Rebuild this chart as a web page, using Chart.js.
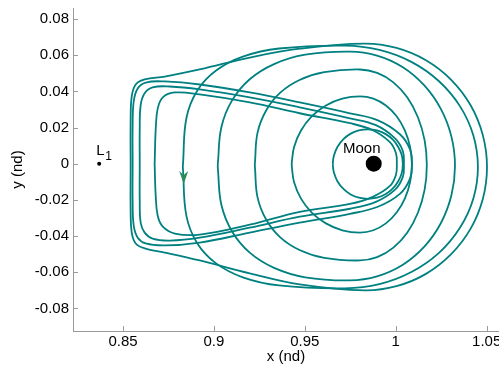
<!DOCTYPE html>
<html>
<head>
<meta charset="utf-8">
<script src="https://cdn.jsdelivr.net/npm/chart.js@4.4.1/dist/chart.umd.min.js"></script>
<style>
  html, body { margin: 0; padding: 0; background: #fff; overflow: hidden; }
  #wrap { width: 520px; height: 374px; }
</style>
</head>
<body>
<div id="wrap"><canvas id="chart"></canvas></div>
<script>
// axis ticks
const xTicks = [0.85, 0.9, 0.95, 1, 1.05];
const xTickLabels = ['0.85', '0.9', '0.95', '1', '1.05'];
const yTicks = [-0.08, -0.06, -0.04, -0.02, 0, 0.02, 0.04, 0.06, 0.08];
const yTickLabels = ['-0.08', '-0.06', '-0.04', '-0.02', '0', '0.02', '0.04', '0.06', '0.08'];

// bodies
const moonPos = [0.9879, 0];
const l1Pos = [0.8369, 0];
const arrowTip = [0.8834, -0.0112];

// trajectory laps (x, y in nd)
const lapBig = [[0.8542,-0.0018],[0.8542,-0.0260],[0.8548,-0.0381],[0.8570,-0.0441],[0.8619,-0.0468],[0.8730,-0.0491],[0.8922,-0.0535],[0.9197,-0.0606],[0.9472,-0.0667],[0.9830,-0.0700],[1.0004,-0.0677],[1.0166,-0.0609],[1.0305,-0.0500],[1.0412,-0.0359],[1.0479,-0.0195],[1.0502,-0.0018],[1.0479,0.0158],[1.0412,0.0323],[1.0305,0.0464],[1.0166,0.0572],[1.0004,0.0640],[0.9830,0.0664],[0.9472,0.0636],[0.9197,0.0587],[0.8922,0.0521],[0.8730,0.0482],[0.8619,0.0466],[0.8570,0.0438],[0.8548,0.0372],[0.8542,0.0235],[0.8542,-0.0018]];
const lapB2 = [[0.8553,-0.0002],[0.8553,-0.0205],[0.8559,-0.0343],[0.8581,-0.0409],[0.8625,-0.0441],[0.8730,-0.0452],[0.8922,-0.0436],[0.9197,-0.0381],[0.9472,-0.0326],[0.9748,-0.0277],[0.9902,-0.0238],[1.0023,-0.0167],[1.0078,-0.0084],[1.0089,-0.0002],[1.0078,0.0081],[1.0023,0.0163],[0.9902,0.0240],[0.9748,0.0279],[0.9472,0.0339],[0.9197,0.0394],[0.8922,0.0438],[0.8730,0.0455],[0.8625,0.0449],[0.8581,0.0416],[0.8559,0.0345],[0.8553,0.0207],[0.8553,-0.0002]];
const lapB3 = [[0.8592,-0.0002],[0.8592,-0.0205],[0.8597,-0.0326],[0.8619,-0.0381],[0.8663,-0.0414],[0.8757,-0.0425],[0.8922,-0.0409],[0.9197,-0.0354],[0.9472,-0.0293],[0.9748,-0.0249],[0.9891,-0.0211],[0.9995,-0.0145],[1.0039,-0.0073],[1.0045,-0.0002],[1.0039,0.0070],[0.9995,0.0141],[0.9891,0.0213],[0.9748,0.0251],[0.9472,0.0312],[0.9197,0.0367],[0.8922,0.0411],[0.8757,0.0427],[0.8663,0.0422],[0.8619,0.0389],[0.8597,0.0323],[0.8592,0.0191],[0.8592,-0.0002]];
const lapB4 = [[0.8674,-0.0002],[0.8680,-0.0178],[0.8691,-0.0288],[0.8719,-0.0348],[0.8785,-0.0386],[0.8922,-0.0392],[0.9197,-0.0337],[0.9472,-0.0266],[0.9748,-0.0222],[0.9874,-0.0183],[0.9968,-0.0123],[1.0001,-0.0062],[1.0006,-0.0002],[1.0001,0.0059],[0.9968,0.0119],[0.9874,0.0185],[0.9748,0.0224],[0.9472,0.0279],[0.9197,0.0339],[0.8922,0.0383],[0.8785,0.0394],[0.8719,0.0367],[0.8691,0.0306],[0.8680,0.0191],[0.8674,-0.0002]];
const lapE1 = [[0.8829,-0.0018],[0.8830,-0.0035],[0.8849,-0.0290],[0.8909,-0.0441],[0.9012,-0.0551],[0.9159,-0.0628],[0.9358,-0.0673],[0.9720,-0.0689],[0.9910,-0.0666],[1.0086,-0.0599],[1.0238,-0.0493],[1.0354,-0.0353],[1.0427,-0.0192],[1.0452,-0.0018],[1.0427,0.0156],[1.0354,0.0317],[1.0238,0.0456],[1.0086,0.0563],[0.9910,0.0629],[0.9720,0.0653],[0.9358,0.0637],[0.9159,0.0592],[0.9012,0.0515],[0.8909,0.0405],[0.8849,0.0254],[0.8830,-0.0001],[0.8829,-0.0018]];
const lapE2 = [[0.9021,-0.0013],[0.9022,-0.0030],[0.9041,-0.0227],[0.9100,-0.0375],[0.9197,-0.0492],[0.9331,-0.0576],[0.9502,-0.0628],[0.9748,-0.0645],[0.9897,-0.0623],[1.0037,-0.0560],[1.0156,-0.0460],[1.0248,-0.0329],[1.0306,-0.0176],[1.0326,-0.0013],[1.0306,0.0151],[1.0248,0.0303],[1.0156,0.0434],[1.0037,0.0535],[0.9897,0.0598],[0.9748,0.0620],[0.9502,0.0603],[0.9331,0.0551],[0.9197,0.0467],[0.9100,0.0350],[0.9041,0.0202],[0.9022,0.0004],[0.9021,-0.0013]];
const lapE3 = [[0.9225,-0.0007],[0.9226,-0.0024],[0.9240,-0.0186],[0.9288,-0.0310],[0.9365,-0.0407],[0.9471,-0.0477],[0.9607,-0.0521],[0.9803,-0.0535],[0.9898,-0.0517],[0.9987,-0.0464],[1.0064,-0.0380],[1.0122,-0.0271],[1.0159,-0.0143],[1.0171,-0.0007],[1.0159,0.0129],[1.0122,0.0257],[1.0064,0.0366],[0.9987,0.0450],[0.9898,0.0502],[0.9803,0.0521],[0.9607,0.0506],[0.9471,0.0463],[0.9365,0.0393],[0.9288,0.0296],[0.9240,0.0172],[0.9226,0.0010],[0.9225,-0.0007]];
const lapE4 = [[0.9428,-0.0004],[0.9429,-0.0021],[0.9441,-0.0102],[0.9479,-0.0193],[0.9538,-0.0270],[0.9616,-0.0330],[0.9706,-0.0368],[0.9803,-0.0381],[0.9877,-0.0368],[0.9946,-0.0330],[1.0005,-0.0270],[1.0050,-0.0193],[1.0079,-0.0102],[1.0089,-0.0004],[1.0079,0.0093],[1.0050,0.0184],[1.0005,0.0262],[0.9946,0.0322],[0.9877,0.0360],[0.9803,0.0372],[0.9706,0.0360],[0.9616,0.0322],[0.9538,0.0262],[0.9479,0.0184],[0.9441,0.0093],[0.9429,0.0013],[0.9428,-0.0004]];
const lapC1 = [[0.9654,-0.0002],[0.9655,-0.0019],[0.9661,-0.0052],[0.9680,-0.0098],[0.9711,-0.0138],[0.9750,-0.0169],[0.9797,-0.0188],[0.9847,-0.0194],[0.9897,-0.0188],[0.9943,-0.0169],[0.9983,-0.0138],[1.0013,-0.0098],[1.0033,-0.0052],[1.0039,-0.0002],[1.0033,0.0048],[1.0013,0.0094],[0.9983,0.0134],[0.9943,0.0165],[0.9897,0.0184],[0.9847,0.0190],[0.9797,0.0184],[0.9750,0.0165],[0.9711,0.0134],[0.9680,0.0094],[0.9661,0.0048],[0.9655,0.0015],[0.9654,-0.0002]];

const laps = [lapBig, lapB2, lapB3, lapB4, lapE1, lapE2, lapE3, lapE4, lapC1];

const FONT = '"Liberation Sans", Arial, sans-serif';
const AXIS_GREY = '#9a9a9a';
const TRAJ = '#008080';

const lapSets = laps.map(lap => ({
    data: lap.map(p => ({x: p[0], y: p[1]})),
    showLine: true,
    borderColor: TRAJ,
    borderWidth: 1.8,
    pointRadius: 0,
    tension: 0.4,
    order: 2
}));

const decor = {
    id: 'decor',
    afterDraw(chart) {
        const ctx = chart.ctx;
        const xs = chart.scales.x, ys = chart.scales.y;
        const area = chart.chartArea;
        ctx.save();
        // inward tick marks
        ctx.strokeStyle = AXIS_GREY;
        ctx.lineWidth = 1;
        ctx.beginPath();
        xs.ticks.forEach(t => {
            const px = Math.round(xs.getPixelForValue(t.value)) + 0.5;
            ctx.moveTo(px, area.bottom);
            ctx.lineTo(px, area.bottom - 5);
        });
        ys.ticks.forEach(t => {
            const py = Math.round(ys.getPixelForValue(t.value)) + 0.5;
            ctx.moveTo(area.left, py);
            ctx.lineTo(area.left + 5, py);
        });
        ctx.stroke();

        // direction arrow
        const ax = xs.getPixelForValue(arrowTip[0]);
        const ay = ys.getPixelForValue(arrowTip[1]);
        ctx.fillStyle = '#2e8b57';
        ctx.beginPath();
        ctx.moveTo(ax, ay);
        ctx.lineTo(ax - 4.5, ay - 13);
        ctx.lineTo(ax, ay - 9);
        ctx.lineTo(ax + 4.5, ay - 13);
        ctx.closePath();
        ctx.fill();

        // labels
        ctx.fillStyle = '#000';
        ctx.textBaseline = 'alphabetic';
        const mx = xs.getPixelForValue(moonPos[0]);
        const my = ys.getPixelForValue(moonPos[1]);
        ctx.font = '15px ' + FONT;
        ctx.textAlign = 'center';
        ctx.fillText('Moon', mx - 12, my - 11);
        const lx = xs.getPixelForValue(l1Pos[0]);
        const ly = ys.getPixelForValue(l1Pos[1]);
        ctx.textAlign = 'left';
        ctx.fillText('L', lx - 3, ly - 9);
        ctx.font = '12px ' + FONT;
        ctx.fillText('1', lx + 6, ly - 4);
        ctx.restore();
    }
};

new Chart(document.getElementById('chart'), {
    type: 'scatter',
    data: {
        datasets: [
            ...lapSets,
            {
                data: [{x: moonPos[0], y: moonPos[1]}],
                pointRadius: 8,
                pointBackgroundColor: '#000',
                pointBorderWidth: 0,
                order: 1
            },
            {
                data: [{x: l1Pos[0], y: l1Pos[1]}],
                pointRadius: 2,
                pointBackgroundColor: '#000',
                pointBorderWidth: 0,
                order: 1
            }
        ]
    },
    options: {
        responsive: true,
        maintainAspectRatio: false,
        animation: false,
        devicePixelRatio: 1,
        layout: { padding: { top: 6, right: 21, left: 0, bottom: 0 } },
        plugins: { legend: { display: false }, tooltip: { enabled: false } },
        scales: {
            x: {
                type: 'linear',
                min: 0.8225,
                max: 1.0568,
                afterBuildTicks: s => { s.ticks = xTicks.map(v => ({value: v})); },
                afterFit: s => { s.height = 43; s.paddingLeft = 0; s.paddingRight = 0; },
                grid: { display: false, drawTicks: false, tickLength: 0 },
                border: { display: true, color: AXIS_GREY, width: 1 },
                ticks: {
                    autoSkip: false, maxRotation: 0, padding: 2,
                    color: '#000', font: { family: FONT, size: 15 },
                    callback: (v, i) => xTickLabels[i]
                },
                title: { display: true, text: 'x (nd)', color: '#000', font: { family: FONT, size: 15 }, padding: { top: 0, bottom: 8 } }
            },
            y: {
                type: 'linear',
                min: -0.0925,
                max: 0.0861,
                afterBuildTicks: s => { s.ticks = yTicks.map(v => ({value: v})); },
                afterFit: s => { s.width = 73; s.paddingTop = 0; s.paddingBottom = 0; },
                grid: { display: false, drawTicks: false, tickLength: 0 },
                border: { display: true, color: AXIS_GREY, width: 1 },
                ticks: {
                    autoSkip: false, padding: 4,
                    color: '#000', font: { family: FONT, size: 15 },
                    callback: (v, i) => yTickLabels[i]
                },
                title: { display: true, text: 'y (nd)', color: '#000', font: { family: FONT, size: 15 }, padding: { top: 9, bottom: 0 } }
            }
        }
    },
    plugins: [decor]
});
</script>
</body>
</html>
